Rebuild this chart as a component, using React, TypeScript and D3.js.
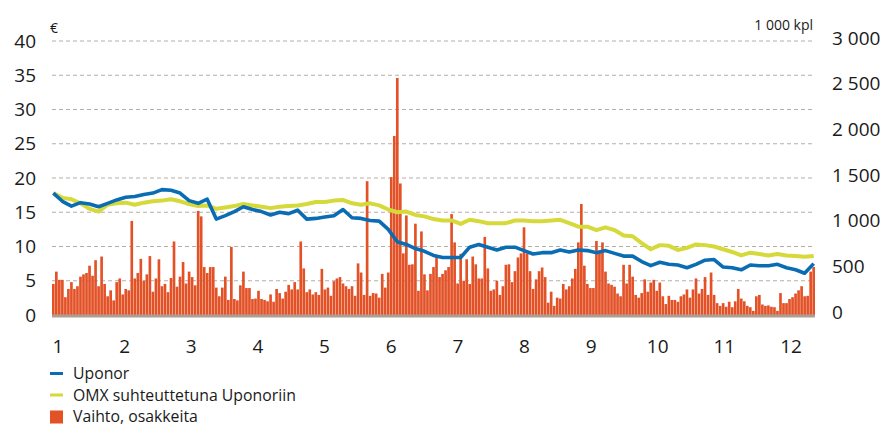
import React, { useEffect, useRef } from "react";
import * as d3 from "d3";

// kurssin ja vaihdon kehitys, kuukaudet 1-12
const months = [1, 2, 3, 4, 5, 6, 7, 8, 9, 10, 11, 12];
const leftTicks = [0, 5, 10, 15, 20, 25, 30, 35, 40];
const rightTicks = [0, 500, 1000, 1500, 2000, 2500, 3000];
const rightTickLabels = ["0", "500", "1 000", "1 500", "2 000", "2 500", "3 000"];

// vaihto, 1 000 kpl per kaupankäyntipäivä
const volume = [
  340, 475, 385, 385, 195, 285, 360, 285, 315, 420, 445, 460, 540, 430, 600, 315,
  640, 340, 205, 270, 160, 360, 400, 225, 285, 270, 1030, 400, 460, 615, 375, 445,
  645, 255, 400, 610, 315, 340, 250, 405, 805, 310, 420, 580, 345, 475, 415, 325,
  1140, 1080, 525, 460, 525, 525, 300, 205, 300, 420, 165, 745, 175, 160, 325, 475,
  295, 295, 175, 180, 265, 175, 165, 150, 225, 145, 285, 240, 180, 255, 330, 280,
  360, 280, 805, 510, 250, 280, 225, 250, 220, 505, 280, 300, 210, 370, 400, 415,
  345, 315, 285, 315, 210, 565, 465, 220, 1465, 210, 240, 235, 190, 450, 300, 465,
  1510, 1960, 2595, 1440, 675, 1090, 550, 555, 1000, 265, 915, 445, 270, 450, 525, 640,
  415, 450, 490, 525, 1105, 795, 345, 670, 375, 610, 340, 640, 555, 400, 400, 855,
  510, 265, 280, 375, 220, 315, 550, 555, 360, 480, 630, 675, 960, 675, 480, 285,
  390, 480, 520, 415, 135, 255, 100, 190, 180, 340, 280, 315, 400, 505, 795, 1215,
  540, 340, 295, 295, 810, 705, 795, 475, 345, 330, 310, 235, 205, 550, 345, 550,
  420, 220, 190, 240, 390, 255, 355, 385, 265, 355, 205, 120, 210, 165, 165, 145,
  205, 225, 280, 190, 280, 400, 235, 285, 415, 220, 465, 220, 130, 100, 130, 90,
  145, 85, 150, 285, 180, 150, 100, 85, 45, 205, 220, 115, 100, 105, 90, 85,
  45, 240, 130, 130, 175, 195, 235, 270, 315, 205, 210, 475, 525,
];

// kurssit (€), joka kolmas kaupankäyntipäivä
const uponor = [
  17.8, 16.6, 15.9, 16.4, 16.2, 15.8, 16.3, 16.8, 17.2, 17.3, 17.6, 17.8, 18.3, 18.2, 17.8, 16.7,
  16.3, 16.9, 14.0, 14.5, 15.1, 15.8, 15.4, 15.1, 14.6, 15.0, 14.8, 15.3, 14.0, 14.1, 14.3, 14.5,
  15.4, 14.2, 14.1, 13.8, 13.7, 12.5, 10.7, 10.3, 9.7, 9.3, 8.7, 8.4, 8.4, 8.4, 9.9, 10.3,
  9.9, 9.5, 9.9, 9.9, 9.4, 8.9, 9.1, 9.1, 9.5, 9.2, 9.5, 9.4, 9.1, 9.4, 9.0, 8.6,
  8.6, 7.8, 7.2, 7.7, 7.4, 7.3, 6.9, 7.4, 8.0, 8.1, 7.0, 6.9, 6.6, 7.3, 7.2, 7.2,
  7.4, 6.9, 6.6, 6.1, 7.5,
];
const omx = [
  17.8, 17.1, 16.9, 16.3, 15.5, 15.1, 16.1, 16.3, 16.4, 16.1, 16.4, 16.6, 16.7, 16.9, 16.6, 16.2,
  15.9, 16.0, 15.5, 15.7, 15.9, 16.2, 16.0, 15.8, 15.6, 15.8, 15.9, 16.0, 16.2, 16.5, 16.5, 16.7,
  16.8, 16.3, 16.1, 16.3, 16.0, 15.4, 15.0, 15.1, 14.6, 14.4, 14.0, 13.8, 13.8, 13.3, 13.9, 13.7,
  13.4, 13.4, 13.4, 13.8, 13.8, 13.7, 13.7, 13.8, 13.9, 13.4, 12.9, 12.9, 12.4, 12.8, 12.4, 11.6,
  11.5, 10.5, 9.6, 10.2, 10.1, 9.5, 9.8, 10.3, 10.2, 10.0, 9.6, 9.2, 8.7, 9.1, 8.9, 8.7,
  8.9, 8.7, 8.6, 8.5, 8.6,
];
const lineStep = 3;

const legendItems = [
  { label: "Uponor", kind: "line", color: "#0a6db3" },
  { label: "OMX suhteuttetuna Uponoriin", kind: "line", color: "#d5d93a" },
  { label: "Vaihto, osakkeita", kind: "rect", color: "#e35127" },
];

const FONT = "'Open Sans', sans-serif";

function App() {
  const ref = useRef<SVGSVGElement>(null);
  const width = 888,
    height = 427;
  const plot = { left: 52, right: 815, top: 41, bottom: 315 };

  useEffect(() => {
    const svg = d3.select(ref.current);
    svg.selectAll("*").remove();

    const x = d3
      .scaleBand<number>()
      .domain(d3.range(volume.length))
      .range([plot.left, plot.right])
      .paddingInner(0.12);
    const yL = d3.scaleLinear().domain([0, 40]).range([plot.bottom, plot.top]);
    const yR = d3.scaleLinear().domain([0, 3000]).range([plot.bottom, plot.top]);
    const xm = d3.scaleLinear().domain([1, 12]).range([58, 791]);

    // gridlines
    svg
      .append("g")
      .selectAll("line")
      .data(leftTicks.filter((t) => t > 0))
      .join("line")
      .attr("x1", plot.left)
      .attr("x2", 812)
      .attr("y1", (d) => yL(d))
      .attr("y2", (d) => yL(d))
      .attr("stroke", "#b7aea4")
      .attr("stroke-width", 1)
      .attr("stroke-dasharray", "4,3");

    // bars
    svg
      .append("g")
      .selectAll("rect")
      .data(volume)
      .join("rect")
      .attr("x", (d, i) => x(i))
      .attr("width", x.bandwidth())
      .attr("y", (d) => yR(d))
      .attr("height", (d) => plot.bottom - yR(d))
      .attr("fill", "#e35127");

    // baseline
    svg
      .append("line")
      .attr("x1", plot.left)
      .attr("x2", plot.right)
      .attr("y1", plot.bottom + 1)
      .attr("y2", plot.bottom + 1)
      .attr("stroke", "#ab9f94")
      .attr("stroke-width", 3);

    const line = d3
      .line<number>()
      .x((d, i) => x(i * lineStep) + x.bandwidth() / 2)
      .y((d) => yL(d));

    svg
      .append("path")
      .datum(omx)
      .attr("fill", "none")
      .attr("stroke", "#d5d93a")
      .attr("stroke-width", 4)
      .attr("stroke-linejoin", "round")
      .attr("d", line);

    svg
      .append("path")
      .datum(uponor)
      .attr("fill", "none")
      .attr("stroke", "#0a6db3")
      .attr("stroke-width", 3.6)
      .attr("stroke-linejoin", "round")
      .attr("d", line);

    // left axis
    svg
      .append("g")
      .selectAll("text")
      .data(leftTicks)
      .join("text")
      .attr("x", 36)
      .attr("y", (d) => yL(d))
      .attr("dy", "0.35em")
      .attr("text-anchor", "end")
      .attr("font-size", 19)
      .attr("fill", "#1a1a1a")
      .text((d) => d);

    // right axis
    svg
      .append("g")
      .selectAll("text")
      .data(rightTicks)
      .join("text")
      .attr("x", 832)
      .attr("y", (d) => yR(d) - 3)
      .attr("dy", "0.35em")
      .attr("font-size", 19)
      .attr("fill", "#1a1a1a")
      .text((d, i) => rightTickLabels[i]);

    // months
    svg
      .append("g")
      .selectAll("text")
      .data(months)
      .join("text")
      .attr("x", (d) => xm(d))
      .attr("y", 346)
      .attr("dy", "0.35em")
      .attr("text-anchor", "middle")
      .attr("font-size", 19)
      .attr("fill", "#1a1a1a")
      .text((d) => d);

    svg
      .append("text")
      .attr("x", 50)
      .attr("y", 33)
      .attr("font-size", 14)
      .attr("fill", "#1a1a1a")
      .text("€");
    svg
      .append("text")
      .attr("x", 813)
      .attr("y", 30)
      .attr("text-anchor", "end")
      .attr("font-size", 14)
      .attr("fill", "#1a1a1a")
      .text("1 000 kpl");

    // legend
    const lg = svg
      .append("g")
      .selectAll("g")
      .data(legendItems)
      .join("g")
      .attr("transform", (d, i) => `translate(50, ${373.5 + i * 21.5})`);
    lg.filter((d) => d.kind === "line")
      .append("line")
      .attr("x1", 0)
      .attr("x2", 13)
      .attr("stroke", (d) => d.color)
      .attr("stroke-width", 3);
    lg.filter((d) => d.kind === "rect")
      .append("rect")
      .attr("x", 0)
      .attr("y", -6)
      .attr("width", 13)
      .attr("height", 13)
      .attr("fill", (d) => d.color);
    lg.append("text")
      .attr("x", 23)
      .attr("dy", "0.35em")
      .attr("font-size", 15.8)
      .attr("fill", "#1a1a1a")
      .text((d) => d.label);
  }, []);

  return (
    <svg
      ref={ref}
      width={width}
      height={height}
      style={{ position: "absolute", left: 0, top: 0, fontFamily: FONT, background: "#fff" }}
    />
  );
}

export default App;
